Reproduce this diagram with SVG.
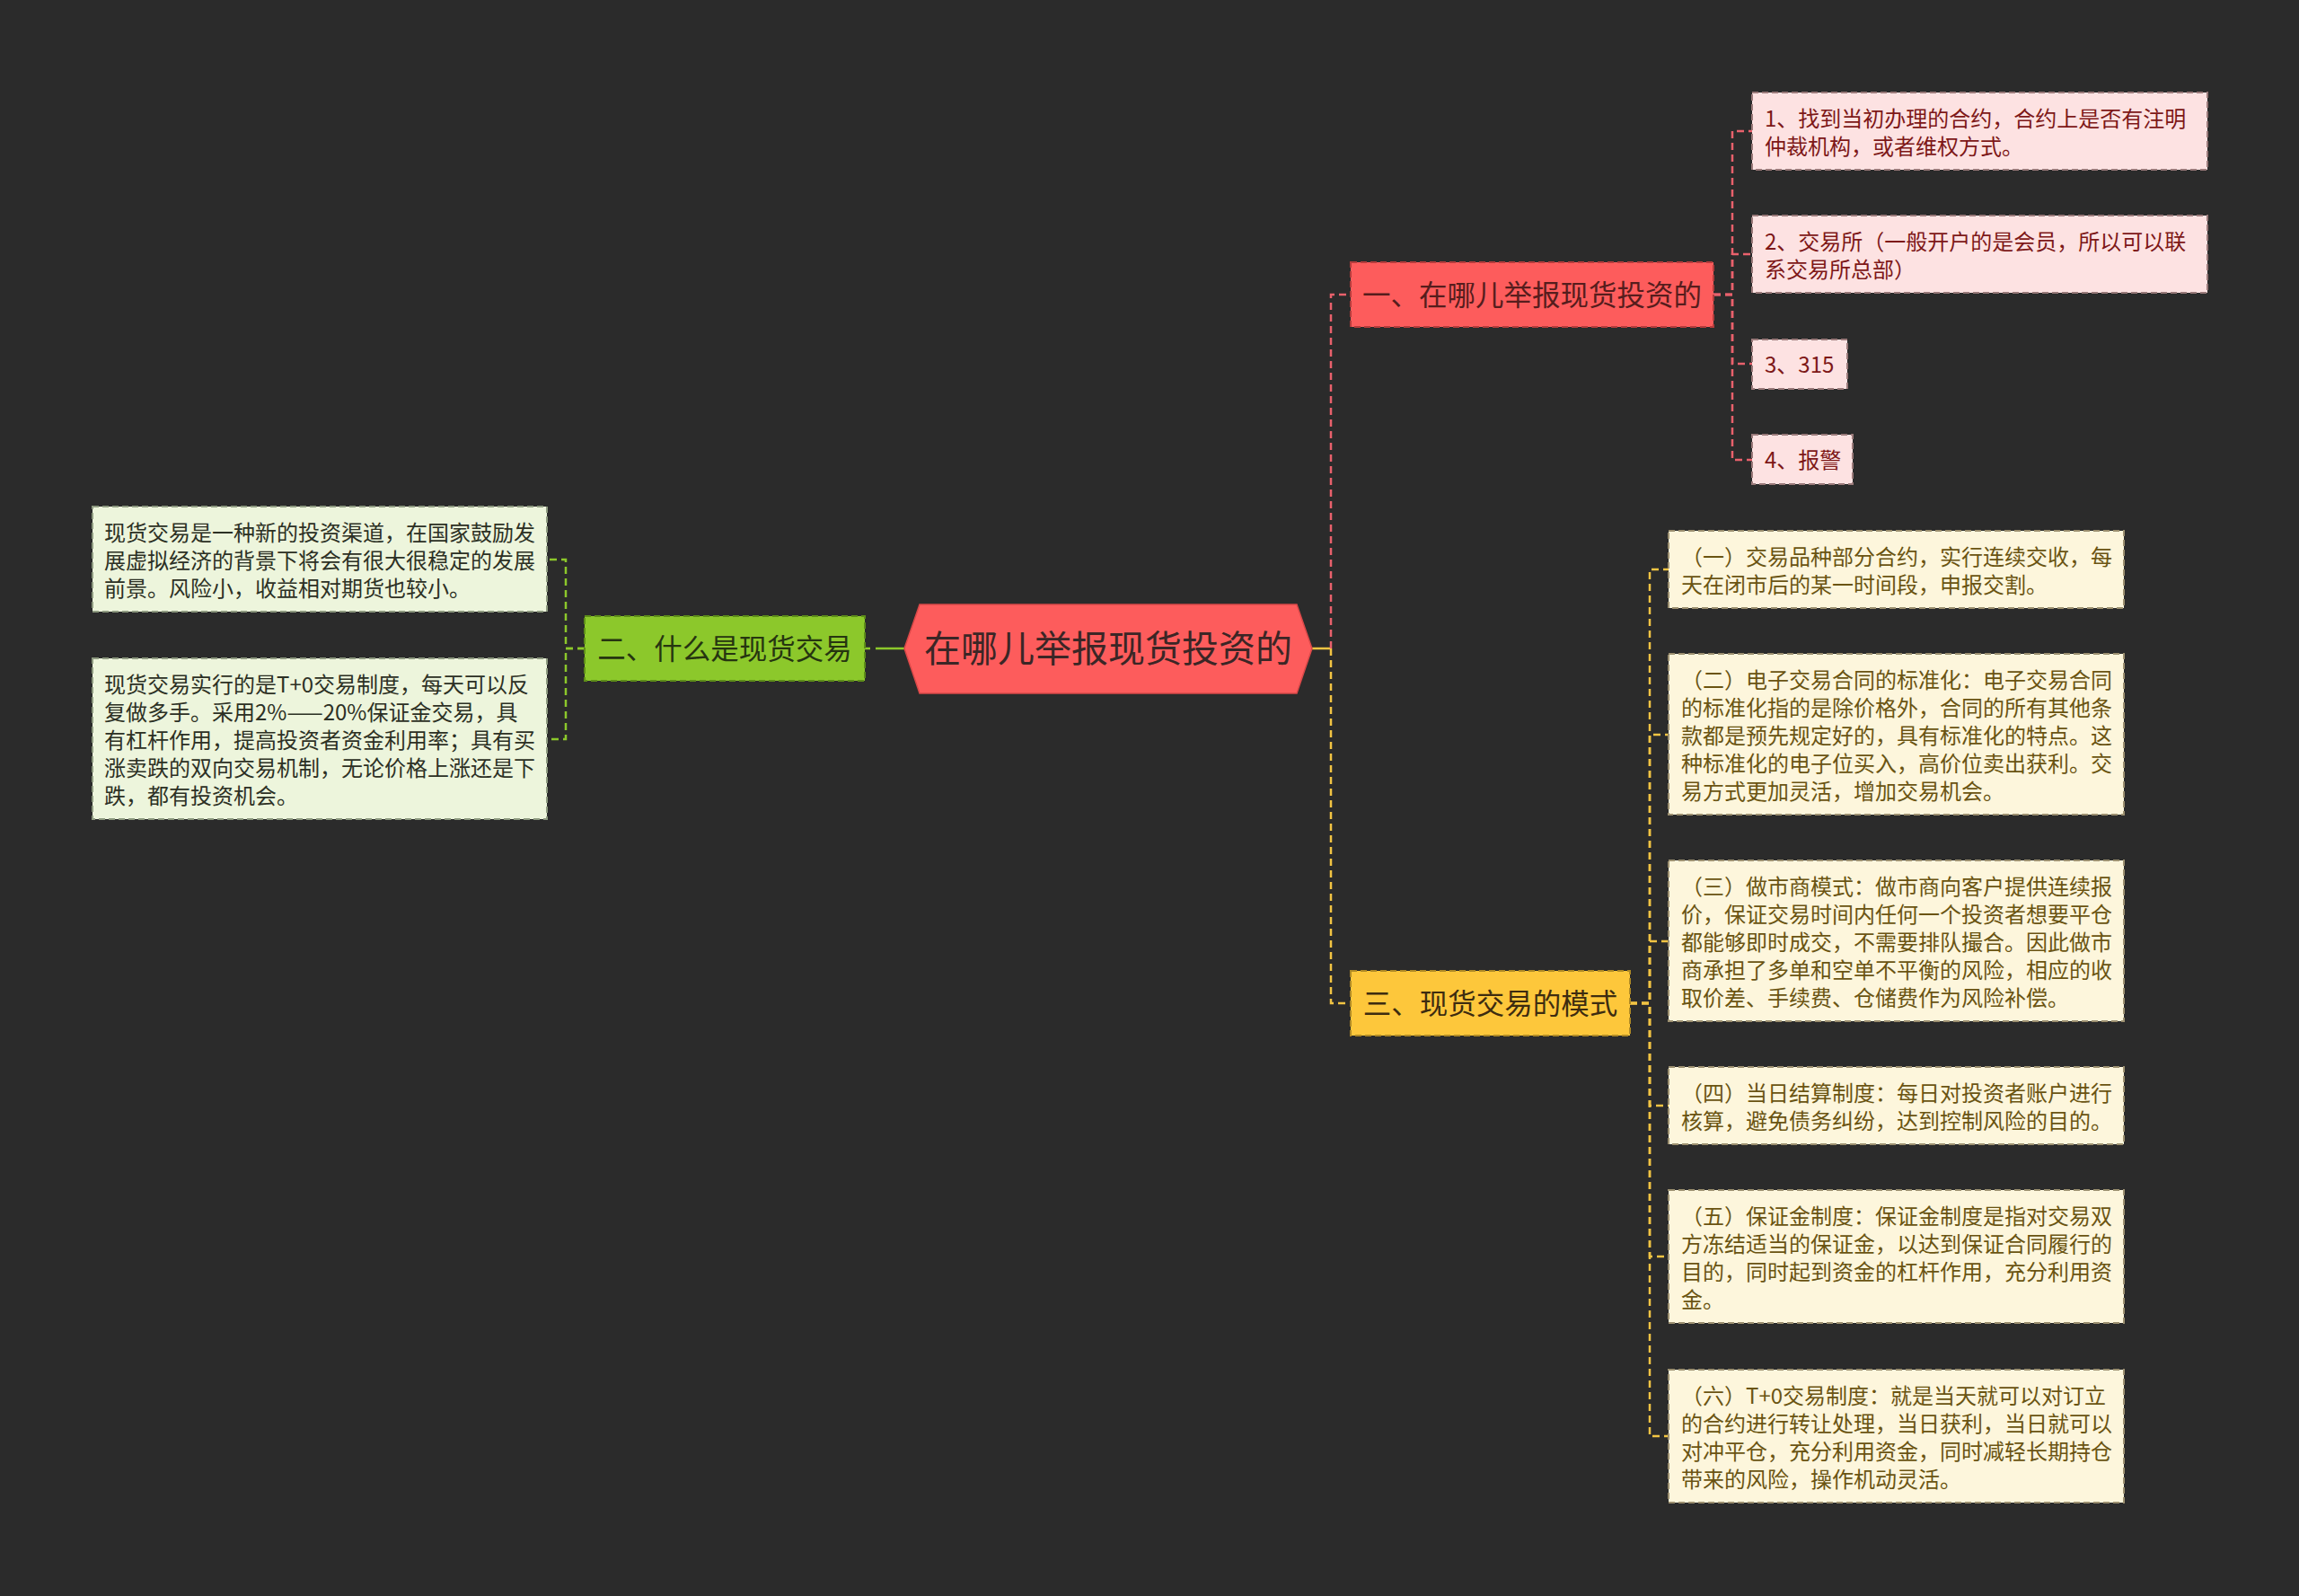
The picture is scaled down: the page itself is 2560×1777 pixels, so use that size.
<svg xmlns="http://www.w3.org/2000/svg" width="2560" height="1777" viewBox="0 0 2560 1777">
<defs>
<style>
text{font-family:"Noto Sans CJK SC","Noto Sans",sans-serif;dominant-baseline:central}
.bg{fill:#2b2b2b}
.root{fill:#fd5c5c;stroke:#d94848;stroke-width:1.5}
.root-t{font-size:41px;fill:#3b2626;text-anchor:middle}
.b1{fill:#fd5c5c;stroke:#b53c3c;stroke-width:2;stroke-dasharray:7 4}
.b1-t{font-size:31.5px;fill:#561d1d;text-anchor:middle}
.b2{fill:#8cc82b;stroke:#5d8d18;stroke-width:2;stroke-dasharray:7 4}
.b2-t{font-size:31.5px;fill:#263510;text-anchor:middle}
.b3{fill:#fdc73b;stroke:#b08a25;stroke-width:2;stroke-dasharray:7 4}
.b3-t{font-size:31.5px;fill:#3d2c10;text-anchor:middle}
.lp{fill:#fde2e2;stroke:#9a7a7a;stroke-width:2;stroke-dasharray:7 4}
.lp-t{font-size:24px;fill:#7d1818}
.ly{fill:#fdf6dc;stroke:#9c9070;stroke-width:2;stroke-dasharray:7 4}
.ly-t{font-size:24px;fill:#6a5412}
.lg{fill:#edf5dc;stroke:#8e9a80;stroke-width:2;stroke-dasharray:7 4}
.lg-t{font-size:24px;fill:#2c3024}
.c{fill:none;stroke-width:2.5}
.cp{stroke:#e9616c;stroke-dasharray:8 5}
.cy{stroke:#f2c443;stroke-dasharray:8 5}
.cg{stroke:#8cc82b;stroke-dasharray:8 5}
.solid{stroke-dasharray:none}
</style>
</defs>
<rect class="bg" x="0" y="0" width="2560" height="1777"/>

<g id="connectors">
  <path class="c cy solid" d="M1461 722 H1482"/>
  <path class="c cp" d="M1482 722 V328 H1504"/>
  <path class="c cy" d="M1482 722 V1117 H1504"/>
  <path class="c cg" style="stroke-dasharray:32 6" d="M1007 722 H963"/>
  <path class="c cg" d="M651 722 H630 V623 H609"/>
  <path class="c cg" d="M651 722 H630 V823 H609"/>
  <path class="c cp" d="M1908 328 H1929 V146 H1951"/>
  <path class="c cp" d="M1908 328 H1929 V283 H1951"/>
  <path class="c cp" d="M1908 328 H1929 V405 H1951"/>
  <path class="c cp" d="M1908 328 H1929 V512 H1951"/>
  <path class="c cy" d="M1815 1117 H1837 V634 H1858"/>
  <path class="c cy" d="M1815 1117 H1837 V818 H1858"/>
  <path class="c cy" d="M1815 1117 H1837 V1048 H1858"/>
  <path class="c cy" d="M1815 1117 H1837 V1231 H1858"/>
  <path class="c cy" d="M1815 1117 H1837 V1399 H1858"/>
  <path class="c cy" d="M1815 1117 H1837 V1599 H1858"/>
</g>

<g id="root">
  <polygon class="root" points="1007,722 1024,673 1444,673 1461,722 1444,772 1024,772"/>
  <text class="root-t" x="1234" y="719">在哪儿举报现货投资的</text>
</g>

<g id="branch1">
  <rect class="b1" x="1504" y="292" width="404" height="72"/>
  <text class="b1-t" x="1706" y="326">一、在哪儿举报现货投资的</text>
</g>
<g id="branch2">
  <rect class="b2" x="651" y="686" width="312" height="72"/>
  <text class="b2-t" x="807" y="720">二、什么是现货交易</text>
</g>
<g id="branch3">
  <rect class="b3" x="1504" y="1081" width="311" height="72"/>
  <text class="b3-t" x="1659.5" y="1115">三、现货交易的模式</text>
</g>

<g id="leaf-p1">
  <rect class="lp" x="1951" y="103" width="507" height="86"/>
  <text class="lp-t"><tspan x="1965" y="129.5">1、找到当初办理的合约，合约上是否有注明</tspan><tspan x="1965" y="160.5">仲裁机构，或者维权方式。</tspan></text>
</g>
<g id="leaf-p2">
  <rect class="lp" x="1951" y="240" width="507" height="86"/>
  <text class="lp-t"><tspan x="1965" y="266.5">2、交易所（一般开户的是会员，所以可以联</tspan><tspan x="1965" y="297.5">系交易所总部）</tspan></text>
</g>
<g id="leaf-p3">
  <rect class="lp" x="1951" y="378" width="106" height="55"/>
  <text class="lp-t" x="1965" y="404">3、315</text>
</g>
<g id="leaf-p4">
  <rect class="lp" x="1951" y="484" width="112" height="55"/>
  <text class="lp-t" x="1965" y="510">4、报警</text>
</g>

<g id="leaf-g1">
  <rect class="lg" x="103" y="564" width="506" height="117"/>
  <text class="lg-t"><tspan x="116" y="590.5">现货交易是一种新的投资渠道，在国家鼓励发</tspan><tspan x="116" y="621.5">展虚拟经济的背景下将会有很大很稳定的发展</tspan><tspan x="116" y="652.5">前景。风险小，收益相对期货也较小。</tspan></text>
</g>
<g id="leaf-g2">
  <rect class="lg" x="103" y="733" width="506" height="179"/>
  <text class="lg-t"><tspan x="116" y="759.5">现货交易实行的是T+0交易制度，每天可以反</tspan><tspan x="116" y="790.5">复做多手。采用2%——20%保证金交易，具</tspan><tspan x="116" y="821.5">有杠杆作用，提高投资者资金利用率；具有买</tspan><tspan x="116" y="852.5">涨卖跌的双向交易机制，无论价格上涨还是下</tspan><tspan x="116" y="883.5">跌，都有投资机会。</tspan></text>
</g>

<g id="leaf-y1">
  <rect class="ly" x="1858" y="591" width="507" height="86"/>
  <text class="ly-t"><tspan x="1872" y="617.5">（一）交易品种部分合约，实行连续交收，每</tspan><tspan x="1872" y="648.5">天在闭市后的某一时间段，申报交割。</tspan></text>
</g>
<g id="leaf-y2">
  <rect class="ly" x="1858" y="728" width="507" height="179"/>
  <text class="ly-t"><tspan x="1872" y="754.5">（二）电子交易合同的标准化：电子交易合同</tspan><tspan x="1872" y="785.5">的标准化指的是除价格外，合同的所有其他条</tspan><tspan x="1872" y="816.5">款都是预先规定好的，具有标准化的特点。这</tspan><tspan x="1872" y="847.5">种标准化的电子位买入，高价位卖出获利。交</tspan><tspan x="1872" y="878.5">易方式更加灵活，增加交易机会。</tspan></text>
</g>
<g id="leaf-y3">
  <rect class="ly" x="1858" y="958" width="507" height="179"/>
  <text class="ly-t"><tspan x="1872" y="984.5">（三）做市商模式：做市商向客户提供连续报</tspan><tspan x="1872" y="1015.5">价，保证交易时间内任何一个投资者想要平仓</tspan><tspan x="1872" y="1046.5">都能够即时成交，不需要排队撮合。因此做市</tspan><tspan x="1872" y="1077.5">商承担了多单和空单不平衡的风险，相应的收</tspan><tspan x="1872" y="1108.5">取价差、手续费、仓储费作为风险补偿。</tspan></text>
</g>
<g id="leaf-y4">
  <rect class="ly" x="1858" y="1188" width="507" height="86"/>
  <text class="ly-t"><tspan x="1872" y="1214.5">（四）当日结算制度：每日对投资者账户进行</tspan><tspan x="1872" y="1245.5">核算，避免债务纠纷，达到控制风险的目的。</tspan></text>
</g>
<g id="leaf-y5">
  <rect class="ly" x="1858" y="1325" width="507" height="148"/>
  <text class="ly-t"><tspan x="1872" y="1351.5">（五）保证金制度：保证金制度是指对交易双</tspan><tspan x="1872" y="1382.5">方冻结适当的保证金，以达到保证合同履行的</tspan><tspan x="1872" y="1413.5">目的，同时起到资金的杠杆作用，充分利用资</tspan><tspan x="1872" y="1444.5">金。</tspan></text>
</g>
<g id="leaf-y6">
  <rect class="ly" x="1858" y="1525" width="507" height="148"/>
  <text class="ly-t"><tspan x="1872" y="1551.5">（六）T+0交易制度：就是当天就可以对订立</tspan><tspan x="1872" y="1582.5">的合约进行转让处理，当日获利，当日就可以</tspan><tspan x="1872" y="1613.5">对冲平仓，充分利用资金，同时减轻长期持仓</tspan><tspan x="1872" y="1644.5">带来的风险，操作机动灵活。</tspan></text>
</g>
</svg>
